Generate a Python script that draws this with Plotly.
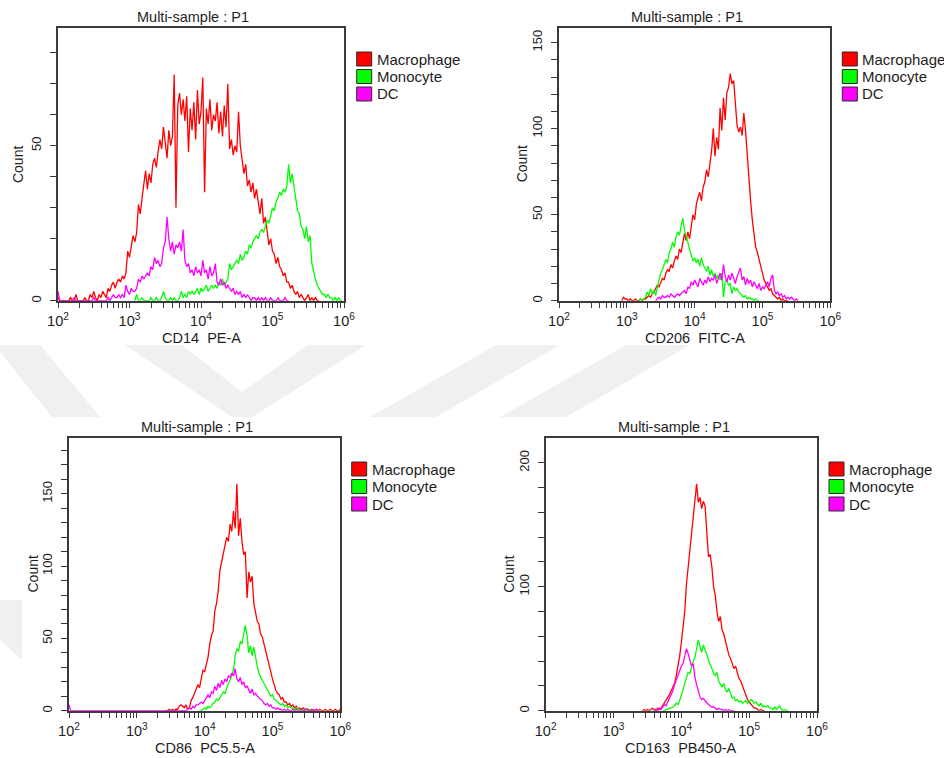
import numpy as np
import plotly.graph_objects as go

W, H = 944, 758
BIN = 0.025  # histogram bin width, in decades

SERIES = ["Macrophage", "Monocyte", "DC"]
COLORS = ["#ff0000", "#00ff00", "#ff00ff"]
PANEL_TITLE = "Multi-sample : P1"
X_TITLES = ["CD14\u00a0\u00a0PE-A", "CD206\u00a0\u00a0FITC-A",
            "CD86\u00a0\u00a0PC5.5-A", "CD163\u00a0\u00a0PB450-A"]
Y_TITLE = "Count"
DECADES = [2, 3, 4, 5, 6]

# ---- CD14 PE-A (counts per bin, first bin at log10 = *_from) ----
cd14_macrophage_from = 2.0
cd14_macrophage = [1, 0, 0, 0, 0, 0, 0, 1, 0, 0, 2, 0, 0, 0, 0, 1, 0, 0,
                   2, 1, 3, 1, 0, 2, 1, 3, 2, 1,
                   4, 3, 5, 6, 4, 6,
                   7, 6, 8, 7, 9,
                   16, 14,
                   18, 21, 19, 22,
                   31, 28, 33,
                   37, 42, 36,
                   41, 38, 44,
                   46, 43, 48,
                   52, 49, 56,
                   51, 46, 55, 50,
                   53, 73,
                   30,
                   63, 67, 60, 65,
                   58, 66, 48, 62, 55,
                   64, 52, 68, 57, 61,
                   72, 35,
                   62, 57, 65, 55, 60, 58,
                   64, 54, 61, 53, 63, 56, 70,
                   49, 52, 47, 50, 48,
                   61,
                   50, 46, 41, 44, 37,
                   39, 35, 38, 33, 36,
                   31, 28, 33, 25, 27,
                   22, 18, 20, 16,
                   15, 12, 14, 11,
                   10, 8, 9, 6,
                   6, 4, 5, 3,
                   2, 3, 1, 2,
                   1, 0, 1, 2, 0, 1, 0, 1, 0]
cd14_monocyte_from = 3.1
cd14_monocyte = [2, 0, 0, 1, 0, 0, 0, 0, 1, 0, 0, 1, 0, 0, 1,
                 3, 1, 0, 0, 1, 0, 1, 0, 0, 1, 3,
                 1, 2, 1, 3, 2, 3, 2, 3, 4, 2,
                 4, 3, 4, 5, 3, 4, 5, 4,
                 5, 4, 6, 5, 7, 5, 6, 7,
                 12, 10, 11, 12,
                 13, 12, 15, 13, 14,
                 16, 15, 18, 17, 19, 20,
                 21, 20, 22, 23, 22,
                 24, 26, 25, 28, 30, 29, 32,
                 33, 35, 34, 36, 35, 37,
                 44, 38, 41, 36,
                 33, 29, 28, 24,
                 23, 20, 24, 19, 21,
                 12, 9, 7,
                 5, 4, 3, 2,
                 2, 1, 2, 1, 1, 0, 1, 0, 1, 0]
cd14_dc_from = 2.0
cd14_dc = [3,
           0, 0, 0, 0, 0, 0, 0, 0, 1, 0, 0, 0, 0, 0, 0, 0, 0, 0, 0, 1, 0, 0, 0, 0, 0, 0, 0,
           1, 0, 1, 2, 1, 1, 2, 1, 2, 1,
           5, 3,
           2, 4, 3, 3, 4,
           7, 6, 8, 7, 8,
           9, 8, 11, 10,
           14, 12, 13,
           11, 12, 17,
           19, 27,
           20, 16, 19, 15, 18, 17, 19, 16,
           23,
           13, 11, 12, 9,
           10, 8, 11, 9, 10, 8,
           13, 9,
           10, 7, 11, 8, 9,
           12,
           6, 5, 7, 5, 6, 4, 5,
           4, 3, 4, 2, 3,
           2, 3, 1, 2, 1, 2,
           1, 0, 1, 1, 0, 1, 0, 1,
           0, 1, 0, 0, 1, 0, 0, 0, 1, 0, 0, 0, 1, 0]

# ---- CD206 FITC-A ----
cd206_macrophage_from = 2.95
cd206_macrophage = [2, 1, 1,
                    0, 1, 0, 0, 1, 0, 0, 1, 0, 1, 1,
                    2, 3, 2, 4, 5,
                    7, 9, 8, 11,
                    13, 12, 16, 18,
                    17, 21, 19, 23,
                    26, 24, 30, 28,
                    33, 39, 35,
                    40, 36, 44,
                    50, 47, 56, 60,
                    63, 58, 66, 69,
                    76, 72, 80,
                    87, 100, 84, 95,
                    88, 112, 99,
                    118, 105, 121, 124,
                    132, 126, 128,
                    113, 102, 98,
                    101, 96, 109, 99,
                    84, 70, 58,
                    47, 38, 31,
                    28, 24, 19,
                    15, 12, 10,
                    8, 6, 7, 4, 3,
                    2, 1, 2, 0,
                    1, 0, 0]
cd206_monocyte_from = 3.2
cd206_monocyte = [1, 0, 1, 2,
                  5, 3, 7, 4, 6, 3, 8,
                  13, 16, 18, 21,
                  24, 22, 28,
                  30, 34, 31, 37,
                  40, 38, 43,
                  48, 41,
                  38, 34, 30,
                  26, 23, 25,
                  22, 24, 20, 25, 21,
                  19, 17, 20, 15, 18, 14, 16,
                  13, 15, 12, 16, 2, 11,
                  12, 9, 10, 4,
                  8, 6, 7, 5,
                  4, 3, 2, 3, 1, 2,
                  1, 1, 0, 1, 0]
cd206_dc_from = 3.45
cd206_dc = [1, 2, 1, 3, 2, 2, 3, 2, 4, 3, 2, 3, 4, 3, 4,
            5, 6, 4,
            8, 7, 11, 9, 12,
            10, 8, 13, 11,
            9, 12, 10, 14, 11, 13,
            12, 15, 10, 13, 16, 12,
            21,
            14, 11, 15, 12, 16, 13, 10, 14,
            17, 19,
            12, 14, 9, 13, 10, 12, 8, 11,
            9, 7, 10, 6, 8, 7, 9,
            11, 8, 13, 15,
            6, 4, 5, 3, 4,
            2, 3, 1, 2, 1, 2, 1, 0, 1]

# ---- CD86 PC5.5-A ----
cd86_macrophage_from = 3.45
cd86_macrophage = [0, 1, 0, 1, 0, 1, 1,
                   3, 4, 3, 2, 4,
                   1, 2,
                   7, 9, 12,
                   14, 18, 16, 22,
                   28, 27, 33, 37,
                   46, 52, 55,
                   69, 74, 83,
                   97, 103, 108,
                   113, 120, 117,
                   129, 124, 138,
                   126, 157,
                   121, 133, 117,
                   108, 110, 78,
                   96, 89, 93,
                   74, 68, 62,
                   60, 53, 51,
                   46, 40, 37,
                   30, 26, 22,
                   18, 14, 12,
                   11, 8, 9, 6,
                   6, 4, 5, 3, 4,
                   2, 3, 1, 2, 1, 2, 1, 1,
                   1, 0, 1, 0, 0, 1, 0, 1, 0, 0, 1, 0, 0, 1, 0, 0, 1, 0, 0, 1]
cd86_monocyte_from = 3.95
cd86_monocyte = [0, 1, 2, 1, 3, 2,
                 4, 5, 6, 8, 7,
                 9, 11, 13, 12, 16,
                 19, 21, 24, 28,
                 38, 43, 41,
                 48, 46, 53,
                 59, 52,
                 40, 45, 38,
                 44, 36, 31,
                 26, 23, 21,
                 19, 17, 14,
                 13, 10, 11,
                 8, 7, 6, 5,
                 4, 5, 3, 4, 2, 3, 2,
                 2, 1, 2, 1, 1, 0, 1, 0, 1, 0, 1]
cd86_dc_from = 2.0
cd86_dc = [4] + [0] * 69 + [
           1, 2, 1, 3, 2, 4,
           4, 5, 6, 5, 7,
           8, 11, 9, 13, 12,
           17, 14, 19, 16, 21,
           18, 22, 20, 24, 23,
           26, 24, 29,
           22, 20, 23,
           18, 20, 16, 17,
           14, 12, 15, 11,
           12, 10, 9, 8, 7,
           5, 4, 5, 3, 4, 2,
           2, 1, 2, 1, 1, 0, 1, 0,
           1, 0, 0, 1, 0, 1, 0, 0, 1, 0, 0, 1, 0, 0, 0, 1, 0, 1]

# ---- CD163 PB450-A ----
cd163_macrophage_from = 3.45
cd163_macrophage = [1, 0, 1, 0, 1, 2, 1, 0, 2, 1, 2,
                    4, 6, 8, 10,
                    13, 16, 19, 22,
                    28, 35, 44,
                    55, 68, 80,
                    102, 116,
                    133, 141,
                    158, 170,
                    183, 168,
                    172, 163, 169, 165,
                    143, 124,
                    126, 116,
                    100, 93,
                    80, 72, 76,
                    65, 62, 56,
                    49, 45, 42,
                    38, 34, 36,
                    30, 26, 24,
                    20, 17, 12,
                    9, 7, 5,
                    3, 2, 2, 1,
                    0, 1, 0]
cd163_monocyte_from = 3.75
cd163_monocyte = [0, 1, 1, 2, 2,
                  3, 4, 6, 5, 8,
                  12, 17, 22,
                  27, 31, 30,
                  36, 40, 43,
                  50, 57, 52,
                  47, 53, 49, 44,
                  40, 37, 34,
                  30, 28, 31,
                  24, 21, 19, 22,
                  17, 15, 18, 14,
                  10, 11, 8, 9,
                  7, 8, 6, 7, 8, 6,
                  7, 9, 8, 6, 7,
                  5, 4, 6, 3, 4, 3, 4, 2,
                  2, 1, 3, 1, 2, 4, 1,
                  0, 1, 0]
cd163_dc_from = 3.625
cd163_dc = [1, 0, 2, 1,
            3, 5, 4, 7,
            9, 13, 16,
            21, 25, 28,
            33, 36, 38,
            44, 50, 46,
            41, 36, 38,
            27, 21, 16,
            11, 9, 10, 8,
            6, 5, 4, 3,
            3, 2, 1, 2, 1, 1,
            0, 1, 0, 1, 0, 0]

PANELS = [
    [(cd14_macrophage_from, cd14_macrophage), (cd14_monocyte_from, cd14_monocyte), (cd14_dc_from, cd14_dc)],
    [(cd206_macrophage_from, cd206_macrophage), (cd206_monocyte_from, cd206_monocyte), (cd206_dc_from, cd206_dc)],
    [(cd86_macrophage_from, cd86_macrophage), (cd86_monocyte_from, cd86_monocyte), (cd86_dc_from, cd86_dc)],
    [(cd163_macrophage_from, cd163_macrophage), (cd163_monocyte_from, cd163_monocyte), (cd163_dc_from, cd163_dc)],
]
Y_MAX = [88, 158.5, 188.4, 219.7]
Y_MAJOR = [50, 50, 50, 100]
Y_MINOR = [10, 10, 10, 20]

# ---- layout geometry in pixels ----
PLOT_BOX = [(58, 344, 28, 300.7), (559, 830.3, 28, 300.7),
            (69, 340.3, 438.3, 710.7), (545.7, 817, 438.3, 710.7)]
TITLE_POS = [(192.8, 16.7), (687, 16.7), (197.2, 426.7), (673.7, 426.7)]
XTITLE_Y = [337.7, 337.7, 747.7, 747.7]
YTITLE_X = [18.7, 522, 32, 508.3]
LEGEND_POS = [(356.7, 52), (842.3, 52), (351.7, 462), (829, 462)]

TEXT = "#1e1e1e"
AXIS = "#3a3a3a"
FONT = "Liberation Sans"


def px(x):
    return x / W


def py(y):
    return 1 - y / H


def histogram_xy(start, counts):
    logs = start + BIN * np.arange(-1, len(counts) + 1)
    return 10 ** logs, [0] + list(counts) + [0]


fig = go.Figure()

# light background emblem bands between the panels
emblem = [
    [(0, 345), (40, 345), (100, 417), (52, 417), (0, 352)],
    [(125, 345), (182, 345), (242, 392), (308, 345), (366, 345), (252, 417), (232, 417)],
    [(370, 417), (436, 417), (560, 345), (496, 345)],
    [(500, 417), (566, 417), (690, 345), (626, 345)],
    [(0, 600), (22, 600), (22, 660), (0, 640)],
]
for poly in emblem:
    path = "M " + " L ".join(f"{px(a):.5f},{py(b):.5f}" for a, b in poly) + " Z"
    fig.add_shape(type="path", path=path, xref="paper", yref="paper",
                  fillcolor="#f0f0f0", line=dict(width=0), layer="below")

minor_x = [k * 10 ** d for d in DECADES[:-1] for k in range(2, 10)]

for p, panel in enumerate(PANELS):
    ax = "" if p == 0 else str(p + 1)
    x0, x1, y0, y1 = PLOT_BOX[p]
    for s, (start, counts) in enumerate(panel):
        xs, ys = histogram_xy(start, counts)
        fig.add_trace(go.Scatter(x=xs, y=ys, mode="lines", name=SERIES[s],
                                 line=dict(color=COLORS[s], width=1.3),
                                 xaxis="x" + ax, yaxis="y" + ax, showlegend=False,
                                 hoverinfo="skip"))
    fig.layout["xaxis" + ax] = dict(
        type="log", range=[2, 6], domain=[px(x0), px(x1)], anchor="y" + ax,
        automargin=False,
        tickmode="array", tickvals=[10 ** d for d in DECADES],
        ticktext=[f"10<sup>{d}</sup>" for d in DECADES],
        ticks="outside", ticklen=6, tickwidth=1, tickcolor=AXIS,
        minor=dict(tickmode="array", tickvals=minor_x, ticks="outside",
                   ticklen=6, tickwidth=1, tickcolor=AXIS, showgrid=False),
        showline=True, linecolor=AXIS, linewidth=1.5, mirror=True,
        showgrid=False, zeroline=False, fixedrange=True,
        tickfont=dict(family=FONT, size=14.5, color=TEXT))
    fig.layout["yaxis" + ax] = dict(
        range=[0, Y_MAX[p]], domain=[py(y1), py(y0)], anchor="x" + ax,
        automargin=False,
        tick0=0, dtick=Y_MAJOR[p], tickangle=-90, ticklabelstandoff=4,
        ticks="outside", ticklen=6, tickwidth=1, tickcolor=AXIS,
        minor=dict(dtick=Y_MINOR[p], ticks="outside", ticklen=6, tickwidth=1,
                   tickcolor=AXIS, showgrid=False),
        showline=True, linecolor=AXIS, linewidth=1.5, mirror=True,
        showgrid=False, zeroline=False, fixedrange=True,
        tickfont=dict(family=FONT, size=13, color=TEXT))

    tx, ty = TITLE_POS[p]
    fig.add_annotation(text=PANEL_TITLE, x=px(tx), y=py(ty), xref="paper", yref="paper",
                       showarrow=False, xanchor="center", yanchor="middle",
                       font=dict(family=FONT, size=14.5, color=TEXT))
    fig.add_annotation(text=X_TITLES[p], x=px((x0 + x1) / 2), y=py(XTITLE_Y[p]),
                       xref="paper", yref="paper", showarrow=False,
                       xanchor="center", yanchor="middle",
                       font=dict(family=FONT, size=14.5, color=TEXT))
    fig.add_annotation(text=Y_TITLE, x=px(YTITLE_X[p]), y=py((y0 + y1) / 2),
                       xref="paper", yref="paper", showarrow=False, textangle=-90,
                       xanchor="center", yanchor="middle",
                       font=dict(family=FONT, size=14, color=TEXT))

    lx, ly = LEGEND_POS[p]
    for s, name in enumerate(SERIES):
        top = ly + 17.5 * s
        fig.add_shape(type="rect", xref="paper", yref="paper",
                      x0=px(lx), x1=px(lx + 15), y0=py(top + 14), y1=py(top),
                      fillcolor=COLORS[s], line=dict(color="#2a2a2a", width=1))
        fig.add_annotation(text=name, x=px(lx + 18), y=py(top + 7),
                           xref="paper", yref="paper", showarrow=False,
                           xanchor="left", yanchor="middle",
                           font=dict(family=FONT, size=15, color=TEXT))

fig.update_layout(width=W, height=H, margin=dict(l=0, r=0, t=0, b=0, autoexpand=False),
                  paper_bgcolor="white", plot_bgcolor="white", showlegend=False)

fig.write_html("out.html")
